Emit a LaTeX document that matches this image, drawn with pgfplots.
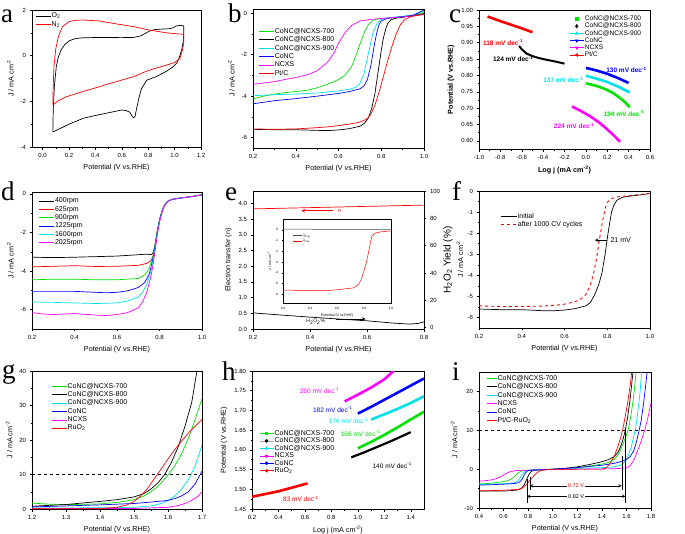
\documentclass[border=0pt]{standalone}
\usepackage{fontspec}
\setmainfont{Liberation Sans}
\newfontfamily\letterfont{Liberation Serif}
\usepackage{pgfplots}
\pgfplotsset{compat=1.18}

\definecolor{cgreen}{RGB}{0,225,0}
\definecolor{ccyan}{RGB}{0,225,235}
\definecolor{cblue}{RGB}{0,0,255}
\definecolor{cmag}{RGB}{255,0,255}
\definecolor{cred}{RGB}{255,0,0}

\pgfplotsset{
  panel/.style={
    scale only axis, anchor=north west,
    axis line style={line width=0.6pt},
    every tick/.style={black, line width=0.5pt},
    tick align=outside, tick pos=left,
    major tick length=2.5pt, minor tick length=1.5pt,
    minor tick num=1,
    tick label style={font=\fontsize{6}{7}\selectfont},
    label style={font=\fontsize{7.2}{8.5}\selectfont},
    /pgf/number format/assume math mode=true,
    xlabel={Potential (V vs.RHE)},
    ylabel={J / mA cm\textsuperscript{-2}},
    every axis plot/.append style={line width=0.7pt},
    legend cell align=left,
    legend style={draw=none, fill=none, anchor=north west,
      font=\fontsize{7}{8}\selectfont, nodes={inner sep=0.8pt}, row sep=0.3pt},
    legend image code/.code={\draw[#1] (0pt,0pt) -- (15pt,0pt);},
  },
  marklegend/.style={
    legend image code/.code={\draw[mark repeat=2,mark phase=2,#1]
      plot coordinates {(0pt,0pt) (7pt,0pt) (14pt,0pt)};}},
  dec1x/.style={xticklabel style={/pgf/number format/.cd, fixed, fixed zerofill, precision=1}},
  dec1y/.style={yticklabel style={/pgf/number format/.cd, fixed, fixed zerofill, precision=1}},
  dec2y/.style={yticklabel style={/pgf/number format/.cd, fixed, fixed zerofill, precision=2}},
}

\begin{document}
\begin{tikzpicture}
\useasboundingbox (0pt,0pt) rectangle (685pt,-533pt);

% ---------------- a: CV in O2 / N2
\begin{axis}[panel, at={(32pt,-10pt)}, width=169pt, height=137pt,
  xmin=-0.08, xmax=1.2, ymin=-4, ymax=2,
  xtick={0,0.2,0.4,0.6,0.8,1.0,1.2}, ytick={-4,-2,0,2}, dec1x,
  legend style={at={(0.0,1.0)}}]
\addplot[black] coordinates {(0.078,-3.34) (0.080,-2.6) (0.083,-2.09) (0.09,-1.3) (0.104,-0.48)
  (0.12,-0.05) (0.14,0.25) (0.17,0.5) (0.205,0.66) (0.25,0.75) (0.3,0.78) (0.43,0.80) (0.6,0.79)
  (0.69,0.80) (0.74,0.86) (0.78,0.98) (0.81,1.08) (0.85,1.14) (0.89,1.16) (0.96,1.18) (0.99,1.22)
  (1.01,1.3) (1.05,1.33) (1.07,1.3) (1.07,0.98) (1.065,0.6) (1.055,0.3) (1.04,0.0) (1.02,-0.3)
  (0.99,-0.48) (0.94,-0.68) (0.86,-0.92) (0.79,-1.07) (0.75,-1.43) (0.73,-1.85) (0.71,-2.38)
  (0.70,-2.67) (0.69,-2.72) (0.675,-2.62) (0.66,-2.47) (0.63,-2.4) (0.6,-2.38) (0.5,-2.5)
  (0.4,-2.62) (0.31,-2.74) (0.2,-3.0) (0.13,-3.2) (0.078,-3.34)};
\addlegendentry{O\textsubscript{2}}
\addplot[cred] coordinates {(0.078,-2.16) (0.080,-1.5) (0.086,-0.48) (0.1,0.3) (0.12,0.83)
  (0.15,1.27) (0.2,1.49) (0.25,1.55) (0.31,1.56) (0.43,1.52) (0.55,1.4) (0.69,1.27) (0.81,1.12)
  (0.94,1.0) (1.07,0.93) (1.07,0.6) (1.06,0.25) (1.04,-0.12) (1.0,-0.3) (0.94,-0.41) (0.8,-0.65)
  (0.69,-0.92) (0.55,-1.15) (0.43,-1.36) (0.3,-1.58) (0.18,-1.8) (0.12,-1.97) (0.078,-2.16)};
\addlegendentry{N\textsubscript{2}}
\end{axis}

% ---------------- b: ORR LSV
\begin{axis}[panel, at={(253pt,-9pt)}, width=171pt, height=139pt,
  xmin=0.2, xmax=1.0, ymin=-6.5, ymax=0.2,
  xtick={0.2,0.4,0.6,0.8,1.0}, ytick={-6,-4,-2,0}, dec1x,
  legend style={at={(0.012,0.885)}}]
\addplot[cgreen] coordinates {(0.2,-4.13) (0.25,-4.0) (0.3,-3.9) (0.35,-3.83) (0.4,-3.78)
  (0.45,-3.72) (0.5,-3.6) (0.55,-3.42) (0.6,-3.2) (0.63,-3.0) (0.66,-2.6) (0.68,-2.1) (0.7,-1.5)
  (0.72,-0.95) (0.74,-0.55) (0.76,-0.35) (0.78,-0.29) (0.8,-0.26) (0.85,-0.22) (0.9,-0.18)
  (0.95,-0.12) (1.0,0.05)};
\addlegendentry{CoNC@NCXS-700}
\addplot[black] coordinates {(0.2,-5.6) (0.3,-5.62) (0.4,-5.62) (0.5,-5.65) (0.55,-5.66)
  (0.6,-5.63) (0.65,-5.57) (0.7,-5.45) (0.72,-5.32) (0.74,-5.05) (0.755,-4.6) (0.77,-3.9)
  (0.78,-3.2) (0.79,-2.5) (0.8,-1.8) (0.81,-1.2) (0.82,-0.8) (0.83,-0.5) (0.845,-0.32)
  (0.87,-0.24) (0.9,-0.2) (0.95,-0.12) (1.0,-0.02)};
\addlegendentry{CoNC@NCXS-800}
\addplot[ccyan] coordinates {(0.2,-3.98) (0.3,-3.93) (0.4,-3.9) (0.5,-3.85) (0.6,-3.75)
  (0.65,-3.67) (0.68,-3.58) (0.7,-3.4) (0.72,-2.9) (0.73,-2.4) (0.745,-1.7) (0.76,-1.0)
  (0.78,-0.5) (0.8,-0.3) (0.85,-0.2) (0.9,-0.15) (0.95,-0.08) (1.0,0.12)};
\addlegendentry{CoNC@NCXS-900}
\addplot[cblue] coordinates {(0.2,-4.37) (0.3,-4.22) (0.4,-4.12) (0.5,-4.0) (0.6,-3.87)
  (0.65,-3.78) (0.7,-3.65) (0.72,-3.5) (0.735,-3.2) (0.75,-2.6) (0.76,-2.0) (0.77,-1.4)
  (0.78,-0.9) (0.79,-0.55) (0.8,-0.38) (0.82,-0.28) (0.85,-0.22) (0.9,-0.17) (0.95,-0.1) (1.0,0.15)};
\addlegendentry{CoNC}
\addplot[cmag] coordinates {(0.2,-3.43) (0.3,-3.3) (0.4,-3.1) (0.45,-2.98) (0.5,-2.78)
  (0.55,-2.35) (0.58,-1.9) (0.6,-1.45) (0.63,-0.95) (0.66,-0.6) (0.7,-0.38) (0.75,-0.3)
  (0.8,-0.26) (0.9,-0.18) (1.0,-0.07)};
\addlegendentry{NCXS}
\addplot[cred] coordinates {(0.2,-5.58) (0.3,-5.6) (0.4,-5.58) (0.5,-5.52) (0.55,-5.48)
  (0.6,-5.42) (0.65,-5.35) (0.7,-5.25) (0.73,-5.12) (0.75,-4.9) (0.77,-4.45) (0.79,-3.8)
  (0.81,-3.05) (0.83,-2.3) (0.85,-1.6) (0.87,-1.0) (0.89,-0.55) (0.91,-0.3) (0.94,-0.17)
  (0.97,-0.1) (1.0,-0.06)};
\addlegendentry{Pt/C}
\end{axis}

% ---------------- c: ORR Tafel
\begin{axis}[panel, marklegend, at={(479pt,-10pt)}, width=171pt, height=139pt,
  xmin=-1.0, xmax=0.6, ymin=0.575, ymax=1.0,
  xtick={-1.0,-0.8,-0.6,-0.4,-0.2,0,0.2,0.4,0.6},
  ytick={0.60,0.65,0.70,0.75,0.80,0.85,0.90,0.95,1.00}, dec1x, dec2y,
  xlabel={\bfseries Log j (mA cm\textsuperscript{-2})},
  ylabel={\bfseries Potential (V vs.RHE)},
  legend style={at={(0.51,0.98)}, font=\fontsize{6.6}{7.5}\selectfont, row sep=-0.6pt}]
\addplot[cred, line width=2.6pt, forget plot] coordinates {(-0.92,0.980) (-0.8,0.966) (-0.7,0.955) (-0.6,0.944) (-0.5,0.932)};
\addplot[black, line width=2.0pt, forget plot] coordinates {(-0.625,0.890) (-0.6,0.880) (-0.556,0.867)
  (-0.5,0.859) (-0.46,0.855) (-0.4,0.850) (-0.34,0.846) (-0.28,0.842) (-0.2,0.836)};
\addplot[cblue, line width=2.6pt, forget plot] coordinates {(0,0.823) (0.1,0.815) (0.2,0.805) (0.3,0.792) (0.4,0.777)};
\addplot[ccyan, line width=2.6pt, forget plot] coordinates {(0,0.799) (0.1,0.790) (0.2,0.780) (0.3,0.766) (0.41,0.748)};
\addplot[cgreen, line width=2.6pt, forget plot] coordinates {(0,0.776) (0.1,0.768) (0.19,0.757)
  (0.26,0.745) (0.32,0.731) (0.37,0.717) (0.41,0.703)};
\addplot[cmag, line width=2.6pt, forget plot] coordinates {(-0.13,0.705) (-0.05,0.692) (0.04,0.675)
  (0.12,0.657) (0.19,0.638) (0.26,0.617) (0.32,0.597)};
\addlegendimage{cgreen, only marks, mark=square*, mark size=1.4pt}
\addlegendentry{CoNC@NCXS-700}
\addlegendimage{black, only marks, mark=diamond*, mark size=1.6pt}
\addlegendentry{CoNC@NCXS-800}
\addlegendimage{ccyan, mark=triangle*, mark size=1.5pt}
\addlegendentry{CoNC@NCXS-900}
\addlegendimage{cblue, mark=triangle*, mark size=1.5pt, mark options={rotate=180}}
\addlegendentry{CoNC}
\addlegendimage{cmag, mark=triangle*, mark size=1.5pt, mark options={rotate=180}}
\addlegendentry{NCXS}
\addlegendimage{cred, mark=triangle*, mark size=1.5pt, mark options={rotate=90}}
\addlegendentry{Pt/C}
\begin{scope}[every node/.style={font=\bfseries\fontsize{6.5}{7}\selectfont}]
\node[cred] at (axis cs:-0.775,0.901) {118 mV dec\textsuperscript{-1}};
\node[black] at (axis cs:-0.68,0.850) {124 mV dec\textsuperscript{-1}};
\node[cblue] at (axis cs:0.38,0.816) {130 mV dec\textsuperscript{-1}};
\node[ccyan] at (axis cs:-0.21,0.786) {137 mV dec\textsuperscript{-1}};
\node[cgreen] at (axis cs:0.356,0.684) {194 mV dec\textsuperscript{-1}};
\node[cmag] at (axis cs:-0.11,0.645) {224 mV dec\textsuperscript{-1}};
\end{scope}
\end{axis}

% ---------------- d: rotation rates
\begin{axis}[panel, at={(32pt,-192pt)}, width=170pt, height=137pt,
  xmin=0.2, xmax=1.0, ymin=-7, ymax=0.1,
  xtick={0.2,0.4,0.6,0.8,1.0}, ytick={-6,-4,-2,0}, dec1x,
  legend style={at={(0.02,0.978)}}]
\addplot[black] coordinates {(0.2,-3.28) (0.3,-3.3) (0.4,-3.28) (0.5,-3.25) (0.6,-3.22)
  (0.7,-3.15) (0.74,-3.12) (0.76,-3.15) (0.77,-3.05) (0.78,-2.6) (0.79,-1.9) (0.80,-1.35)
  (0.81,-0.95) (0.82,-0.66) (0.83,-0.48) (0.84,-0.37) (0.86,-0.28) (0.9,-0.21) (0.95,-0.14) (1.0,-0.05)};
\addlegendentry{400rpm}
\addplot[cred] coordinates {(0.2,-3.78) (0.3,-3.75) (0.4,-3.72) (0.5,-3.76) (0.6,-3.75)
  (0.7,-3.7) (0.74,-3.6) (0.76,-3.45) (0.77,-3.2) (0.78,-2.6) (0.79,-1.9) (0.80,-1.35)
  (0.81,-0.95) (0.82,-0.66) (0.83,-0.48) (0.84,-0.37) (0.86,-0.28) (0.9,-0.21) (0.95,-0.14) (1.0,-0.05)};
\addlegendentry{625rpm}
\addplot[cgreen] coordinates {(0.2,-4.45) (0.3,-4.42) (0.4,-4.42) (0.5,-4.45) (0.6,-4.45)
  (0.7,-4.38) (0.73,-4.2) (0.75,-3.9) (0.76,-3.55) (0.77,-3.2) (0.78,-2.6) (0.79,-1.9) (0.80,-1.35)
  (0.81,-0.95) (0.82,-0.66) (0.83,-0.48) (0.84,-0.37) (0.86,-0.28) (0.9,-0.21) (0.95,-0.14) (1.0,-0.05)};
\addlegendentry{900rpm}
\addplot[cblue] coordinates {(0.2,-5.05) (0.3,-5.05) (0.4,-5.05) (0.5,-5.1) (0.55,-5.12)
  (0.6,-5.1) (0.65,-5.02) (0.7,-4.85) (0.73,-4.6) (0.75,-4.2) (0.76,-3.8) (0.77,-3.3) (0.78,-2.65)
  (0.79,-1.95) (0.80,-1.38) (0.81,-0.97) (0.82,-0.67) (0.83,-0.48) (0.84,-0.37) (0.86,-0.28)
  (0.9,-0.21) (0.95,-0.14) (1.0,-0.05)};
\addlegendentry{1225rpm}
\addplot[ccyan] coordinates {(0.2,-5.6) (0.3,-5.62) (0.4,-5.65) (0.5,-5.68) (0.6,-5.65)
  (0.65,-5.55) (0.7,-5.35) (0.72,-5.1) (0.74,-4.7) (0.76,-4.0) (0.77,-3.45) (0.78,-2.75)
  (0.79,-2.0) (0.80,-1.42) (0.81,-1.0) (0.82,-0.68) (0.83,-0.49) (0.84,-0.37) (0.86,-0.28)
  (0.9,-0.21) (0.95,-0.14) (1.0,-0.05)};
\addlegendentry{1600rpm}
\addplot[cmag] coordinates {(0.2,-6.15) (0.25,-6.22) (0.3,-6.25) (0.4,-6.2) (0.5,-6.28)
  (0.55,-6.3) (0.6,-6.25) (0.65,-6.15) (0.7,-5.9) (0.72,-5.6) (0.74,-5.1) (0.76,-4.25)
  (0.77,-3.65) (0.78,-2.9) (0.79,-2.1) (0.80,-1.48) (0.81,-1.03) (0.82,-0.7) (0.83,-0.5)
  (0.84,-0.38) (0.86,-0.28) (0.9,-0.21) (0.95,-0.14) (1.0,-0.05)};
\addlegendentry{2025rpm}
\end{axis}

% ---------------- e: n and H2O2 yield (left axis)
\begin{axis}[panel, at={(253pt,-191pt)}, width=171pt, height=138pt,
  xmin=0.2, xmax=0.8, ymin=0, ymax=4.4,
  xtick={0.2,0.4,0.6,0.8}, ytick={0,0.5,1.0,1.5,2.0,2.5,3.0,3.5,4.0}, dec1x, dec1y,
  minor tick num=0,
  ylabel={Electron transfer (n)}]
\addplot[cred] coordinates {(0.2,3.83) (0.3,3.85) (0.4,3.87) (0.5,3.89) (0.6,3.91) (0.7,3.93) (0.8,3.95)};
\draw[cred, ->, >=stealth, line width=0.6pt] (axis cs:0.48,3.77) -- (axis cs:0.37,3.77);
\node[cred, anchor=west, inner sep=0.5pt, font=\fontsize{5.5}{6}\selectfont] at (axis cs:0.495,3.77) {n};
\draw[black, ->, >=stealth, line width=0.6pt] (axis cs:0.49,0.32) -- (axis cs:0.595,0.32);
\node[anchor=center, inner sep=0.5pt, font=\fontsize{5}{6}\selectfont] at (axis cs:0.42,0.24) {H\textsubscript{2}O\textsubscript{2}\%};
\end{axis}
% e: right axis
\begin{axis}[panel, at={(253pt,-191pt)}, width=171pt, height=138pt,
  xmin=0.2, xmax=0.8, ymin=-1, ymax=100,
  axis y line*=right, axis x line=none, xlabel={},
  ytick pos=right, yticklabel pos=right, ylabel near ticks,
  ylabel shift=-3.5pt,
  ytick={0,20,40,60,80,100}, minor tick num=0,
  ylabel={H\textsubscript{2}O\textsubscript{2} Yield (\%)}]
\addplot[black] coordinates {(0.2,10.8) (0.25,10.0) (0.3,9.2) (0.4,7.7) (0.5,6.3) (0.6,5.0)
  (0.65,4.1) (0.7,3.2) (0.75,2.6) (0.78,3.1) (0.8,4.3)};
\end{axis}
% e: inset RRDE currents
\begin{axis}[panel, at={(283pt,-219pt)}, width=108pt, height=84pt,
  axis background/.style={fill=white},
  xmin=0.2, xmax=1.0, ymin=-6.8, ymax=1,
  xtick={0.2,0.4,0.6,0.8,1.0}, ytick={-6,-5,-4,-3,-2,-1,0}, dec1x, minor tick num=0,
  major tick length=1.2pt,
  tick label style={font=\fontsize{3.2}{4}\selectfont},
  label style={font=\fontsize{3.5}{4}\selectfont},
  xlabel style={yshift=2.5pt}, ylabel style={yshift=-2.5pt},
  every axis plot/.append style={line width=0.5pt},
  legend style={at={(0.06,0.86)}, font=\fontsize{3.5}{4}\selectfont, row sep=0pt},
  legend image code/.code={\draw[#1] (0pt,0pt) -- (9pt,0pt);}]
\addplot[black!70] coordinates {(0.2,0.06) (0.4,0.05) (0.6,0.03) (0.8,0.02) (1.0,0.02)};
\addlegendentry{J\textsubscript{Ring}}
\addplot[cred] coordinates {(0.2,-5.6) (0.3,-5.62) (0.4,-5.65) (0.5,-5.66) (0.55,-5.63)
  (0.65,-5.5) (0.72,-5.4) (0.76,-5.1) (0.78,-4.6) (0.8,-3.8) (0.82,-2.9) (0.84,-1.7) (0.85,-1.0)
  (0.86,-0.55) (0.88,-0.32) (0.92,-0.2) (1.0,-0.1)};
\addlegendentry{J\textsubscript{Disk}}
\end{axis}

% ---------------- f: stability
\begin{axis}[panel, at={(479pt,-191pt)}, width=171pt, height=137pt,
  xmin=0.2, xmax=1.0, ymin=-6.5, ymax=0,
  xtick={0.2,0.4,0.6,0.8,1.0}, ytick={-6,-5,-4,-3,-2,-1,0}, dec1x,
  ylabel shift=-2.5pt,
  legend style={at={(0.105,0.86)}},
  legend image code/.code={\draw[#1] (0pt,0pt) -- (16pt,0pt);}]
\addplot[black] coordinates {(0.2,-5.6) (0.3,-5.63) (0.4,-5.63) (0.5,-5.68) (0.55,-5.68)
  (0.6,-5.65) (0.65,-5.58) (0.7,-5.45) (0.72,-5.3) (0.74,-4.95) (0.76,-4.45) (0.775,-3.9)
  (0.79,-3.0) (0.80,-2.25) (0.81,-1.6) (0.82,-1.0) (0.83,-0.7) (0.845,-0.44) (0.87,-0.3)
  (0.9,-0.25) (0.95,-0.19) (1.0,-0.12)};
\addlegendentry{initial}
\addplot[cred, dashed, line width=0.9pt] coordinates {(0.2,-5.45) (0.3,-5.48) (0.4,-5.48) (0.5,-5.46)
  (0.55,-5.43) (0.6,-5.37) (0.65,-5.25) (0.68,-5.1) (0.7,-4.9) (0.72,-4.5) (0.735,-3.95)
  (0.75,-3.2) (0.763,-2.33) (0.775,-1.6) (0.79,-0.85) (0.80,-0.55) (0.815,-0.38) (0.84,-0.29)
  (0.9,-0.22) (0.95,-0.17) (1.0,-0.11)};
\addlegendentry{after 1000 CV cycles}
\draw[->, >=stealth, line width=0.6pt] (axis cs:0.80,-2.33) -- (axis cs:0.742,-2.33);
\node[anchor=west, inner sep=1pt, font=\fontsize{7}{8}\selectfont] at (axis cs:0.81,-2.33) {21 mV};
\end{axis}

% ---------------- g: OER LSV
\begin{axis}[panel, at={(32pt,-371pt)}, width=170pt, height=138pt,
  xmin=1.2, xmax=1.7, ymin=0, ymax=40,
  xtick={1.2,1.3,1.4,1.5,1.6,1.7}, ytick={0,10,20,30,40}, dec1x,
  legend style={at={(0.094,0.935)}}]
\addplot[cgreen] coordinates {(1.2,1.7) (1.25,1.4) (1.3,1.3) (1.35,1.35) (1.4,1.5) (1.45,1.9)
  (1.5,2.7) (1.53,3.8) (1.55,5.0) (1.57,6.5) (1.6,9.8) (1.62,12.5) (1.64,16) (1.66,20.5)
  (1.68,26) (1.7,32)};
\addlegendentry{CoNC@NCXS-700}
\addplot[black] coordinates {(1.2,0.8) (1.3,1.3) (1.4,2.2) (1.45,2.7) (1.5,3.5) (1.53,4.5)
  (1.55,5.8) (1.57,7.5) (1.59,10) (1.61,13.5) (1.63,18) (1.65,24) (1.67,31) (1.685,40)};
\addlegendentry{CoNC@NCXS-800}
\addplot[ccyan] coordinates {(1.2,0.3) (1.4,0.35) (1.5,0.5) (1.55,0.9) (1.58,1.6) (1.6,2.5)
  (1.62,3.8) (1.64,5.8) (1.66,8.5) (1.68,12.5) (1.7,18.5)};
\addlegendentry{CoNC@NCXS-900}
\addplot[cblue] coordinates {(1.2,0.6) (1.3,0.9) (1.4,1.2) (1.5,1.6) (1.55,2.0) (1.6,2.5)
  (1.62,3.0) (1.64,3.8) (1.66,5.0) (1.68,7.3) (1.7,11)};
\addlegendentry{CoNC}
\addplot[cmag] coordinates {(1.2,0.1) (1.5,0.15) (1.6,0.5) (1.63,1.0) (1.65,1.6) (1.67,2.5)
  (1.69,3.8) (1.7,5)};
\addlegendentry{NCXS}
\addplot[cred] coordinates {(1.2,0.05) (1.4,0.1) (1.45,0.5) (1.48,1.2) (1.5,2.2) (1.52,3.8)
  (1.54,6) (1.56,8.8) (1.58,11.6) (1.6,14.5) (1.62,17.2) (1.64,19.7) (1.66,22) (1.68,24) (1.7,26)};
\addlegendentry{RuO\textsubscript{2}}
\addplot[black, dashed, line width=0.6pt, forget plot] coordinates {(1.2,10) (1.7,10)};
\end{axis}

% ---------------- h: OER Tafel
\begin{axis}[panel, marklegend, at={(252pt,-371pt)}, width=172pt, height=138pt,
  xmin=0.2, xmax=1.5, ymin=1.45, ymax=1.80,
  xtick={0.2,0.4,0.6,0.8,1.0,1.2,1.4},
  ytick={1.45,1.50,1.55,1.60,1.65,1.70,1.75,1.80}, dec1x, dec2y,
  xlabel={Log j (mA cm\textsuperscript{-2})},
  ylabel={Potential (V vs.RHE)},
  legend style={at={(0.023,0.594)}, row sep=-0.6pt}]
\addplot[cmag, line width=2.6pt, forget plot] coordinates {(0.9,1.723) (1.0,1.740) (1.1,1.758) (1.2,1.779) (1.27,1.80)};
\addplot[cblue, line width=2.6pt, forget plot] coordinates {(1.0,1.692) (1.1,1.709) (1.2,1.727) (1.3,1.745) (1.4,1.763) (1.5,1.781)};
\addplot[ccyan, line width=2.6pt, forget plot] coordinates {(1.1,1.677) (1.2,1.690) (1.3,1.704) (1.4,1.719) (1.5,1.736)};
\addplot[cgreen, line width=2.6pt, forget plot] coordinates {(1.0,1.604) (1.1,1.620) (1.2,1.638) (1.3,1.657) (1.4,1.677) (1.5,1.697)};
\addplot[black, line width=2.2pt, forget plot] coordinates {(0.95,1.581) (1.05,1.594) (1.15,1.608) (1.25,1.622) (1.4,1.645)};
\addplot[cred, line width=2.6pt, forget plot] coordinates {(0.2,1.481) (0.3,1.488) (0.4,1.495) (0.5,1.504) (0.62,1.515)};
\addlegendimage{cgreen, mark=square*, mark size=1.3pt}
\addlegendentry{CoNC@NCXS-700}
\addlegendimage{black!35, mark=*, mark size=1.4pt, mark options={black}}
\addlegendentry{CoNC@NCXS-800}
\addlegendimage{ccyan, mark=triangle*, mark size=1.5pt}
\addlegendentry{CoNC@NCXS-900}
\addlegendimage{cmag, mark=triangle*, mark size=1.5pt, mark options={rotate=180}}
\addlegendentry{NCXS}
\addlegendimage{cblue, mark=*, mark size=1.4pt}
\addlegendentry{CoNC}
\addlegendimage{cred, mark=triangle*, mark size=1.5pt, mark options={rotate=90}}
\addlegendentry{RuO\textsubscript{2}}
\begin{scope}[every node/.style={font=\fontsize{6.5}{7}\selectfont}]
\node[cmag] at (axis cs:0.71,1.751) {280 mV dec\textsuperscript{-1}};
\node[cblue] at (axis cs:0.81,1.702) {182 mV dec\textsuperscript{-1}};
\node[ccyan] at (axis cs:0.93,1.673) {176 mV dec\textsuperscript{-1}};
\node[cgreen] at (axis cs:1.02,1.641) {166 mV dec\textsuperscript{-1}};
\node[black] at (axis cs:1.26,1.560) {140 mV dec\textsuperscript{-1}};
\node[cred] at (axis cs:0.57,1.475) {83 mV dec\textsuperscript{-1}};
\end{scope}
\end{axis}

% ---------------- i: bifunctional
\begin{axis}[panel, at={(479pt,-372pt)}, width=172pt, height=136pt,
  xmin=0.4, xmax=1.8, ymin=-10, ymax=25,
  xtick={0.4,0.6,0.8,1.0,1.2,1.4,1.6,1.8}, ytick={-10,0,10,20}, dec1x,
  legend style={at={(0.023,1.0)}},
  legend image code/.code={\draw[#1] (0pt,0pt) -- (10pt,0pt);}]
\addplot[cgreen] coordinates {(0.4,-3.78) (0.45,-3.72) (0.5,-3.6) (0.55,-3.42) (0.6,-3.2)
  (0.63,-3.0) (0.66,-2.6) (0.68,-2.1) (0.7,-1.5) (0.72,-0.95) (0.74,-0.55) (0.76,-0.35)
  (0.8,-0.26) (0.9,-0.18) (1.0,0.0) (1.1,0.15) (1.2,0.4) (1.3,0.8) (1.4,1.3) (1.45,1.7)
  (1.5,2.5) (1.53,3.6) (1.55,4.8) (1.57,6.3) (1.6,8.8) (1.615,10.2) (1.64,14.5) (1.66,19) (1.68,25.5)};
\addlegendentry{CoNC@NCXS-700}
\addplot[black] coordinates {(0.4,-5.62) (0.5,-5.65) (0.6,-5.62) (0.65,-5.55) (0.7,-5.4)
  (0.72,-5.32) (0.74,-5.05) (0.755,-4.6) (0.77,-3.9) (0.78,-3.2) (0.79,-2.5) (0.8,-1.8)
  (0.81,-1.2) (0.82,-0.8) (0.83,-0.5) (0.845,-0.32) (0.87,-0.24) (0.9,-0.17) (1.0,-0.05)
  (1.1,0.2) (1.2,0.6) (1.3,1.2) (1.4,1.9) (1.45,2.4) (1.5,3.2) (1.53,4.3) (1.55,5.6) (1.57,7.4)
  (1.59,9.9) (1.61,13.4) (1.63,18) (1.65,24) (1.655,25.5)};
\addlegendentry{CoNC@NCXS-800}
\addplot[ccyan] coordinates {(0.4,-3.9) (0.5,-3.85) (0.6,-3.75) (0.65,-3.67) (0.68,-3.58)
  (0.7,-3.4) (0.72,-2.9) (0.73,-2.4) (0.745,-1.7) (0.76,-1.0) (0.78,-0.5) (0.8,-0.3) (0.85,-0.2)
  (0.9,-0.15) (1.0,0.0) (1.2,0.2) (1.4,0.4) (1.5,0.6) (1.55,1.0) (1.58,1.7) (1.6,2.6) (1.62,3.9)
  (1.64,5.8) (1.66,8.5) (1.675,10.5) (1.69,14) (1.71,19.5) (1.725,25.5)};
\addlegendentry{CoNC@NCXS-900}
\addplot[cmag] coordinates {(0.4,-3.1) (0.45,-2.98) (0.5,-2.78) (0.55,-2.35) (0.58,-1.9)
  (0.6,-1.45) (0.63,-0.95) (0.66,-0.6) (0.7,-0.38) (0.75,-0.3) (0.8,-0.26) (0.9,-0.18)
  (1.0,-0.05) (1.2,0.0) (1.4,0.05) (1.5,0.1) (1.6,0.3) (1.63,0.9) (1.65,1.8) (1.67,3.0) (1.7,5.5)
  (1.72,7.2) (1.75,10.2) (1.78,14) (1.8,17)};
\addlegendentry{NCXS}
\addplot[cblue] coordinates {(0.4,-4.12) (0.5,-4.0) (0.6,-3.87) (0.65,-3.78) (0.7,-3.65)
  (0.72,-3.5) (0.735,-3.2) (0.75,-2.6) (0.76,-2.0) (0.77,-1.4) (0.78,-0.9) (0.79,-0.55) (0.8,-0.38)
  (0.82,-0.28) (0.85,-0.22) (0.9,-0.17) (1.0,0.0) (1.2,0.4) (1.4,1.0) (1.5,1.5) (1.55,1.9) (1.6,2.5)
  (1.63,3.2) (1.66,4.8) (1.68,6.8) (1.7,9.5) (1.72,12.5) (1.74,17) (1.76,22.5) (1.77,25.5)};
\addlegendentry{CoNC}
\addplot[cred] coordinates {(0.4,-5.58) (0.5,-5.52) (0.55,-5.48) (0.6,-5.42) (0.65,-5.35)
  (0.7,-5.25) (0.73,-5.12) (0.75,-4.9) (0.77,-4.45) (0.79,-3.8) (0.81,-3.05) (0.83,-2.3)
  (0.85,-1.6) (0.87,-1.0) (0.89,-0.55) (0.91,-0.3) (0.94,-0.17) (1.0,-0.05) (1.2,0.0) (1.4,0.0)
  (1.43,0.2) (1.46,1.2) (1.5,3.2) (1.53,5.8) (1.55,7.8) (1.57,10.2) (1.59,13.5) (1.61,17)
  (1.63,21.5) (1.645,25.5)};
\addlegendentry{Pt/C-RuO\textsubscript{2}}
\addplot[black, dashed, line width=0.6pt, forget plot] coordinates {(0.4,10) (1.8,10)};
\addplot[black, line width=0.5pt, forget plot] coordinates {(0.79,-8.6) (0.79,-2.5)};
\addplot[black, line width=0.5pt, forget plot] coordinates {(0.815,-5.3) (0.815,-2.0)};
\addplot[black, line width=0.5pt, forget plot] coordinates {(1.562,-5.3) (1.562,3.5)};
\addplot[black, line width=0.5pt, forget plot] coordinates {(1.592,-8.6) (1.592,10)};
\draw[<->, >=stealth, line width=0.5pt] (axis cs:0.815,-4.3) -- (axis cs:1.562,-4.3)
  node[midway, fill=white, inner sep=1pt, text=cred, font=\fontsize{5.5}{6}\selectfont] {0.72 V};
\draw[<->, >=stealth, line width=0.5pt] (axis cs:0.79,-7.0) -- (axis cs:1.592,-7.0)
  node[midway, fill=white, inner sep=1pt, font=\fontsize{5.5}{6}\selectfont] {0.82 V};
\end{axis}

% ---------------- panel letters
\begin{scope}[every node/.style={anchor=base west, inner sep=0pt, font=\letterfont\fontsize{27}{27}\selectfont}]
\node at (1pt,-22pt) {a};
\node at (228pt,-22pt) {b};
\node at (449pt,-22pt) {c};
\node at (1pt,-200pt) {d};
\node at (225pt,-200pt) {e};
\node at (452pt,-200pt) {f};
\node at (2pt,-378pt) {g};
\node at (222pt,-380pt) {h};
\node at (452pt,-380pt) {i};
\end{scope}
\end{tikzpicture}
\end{document}
